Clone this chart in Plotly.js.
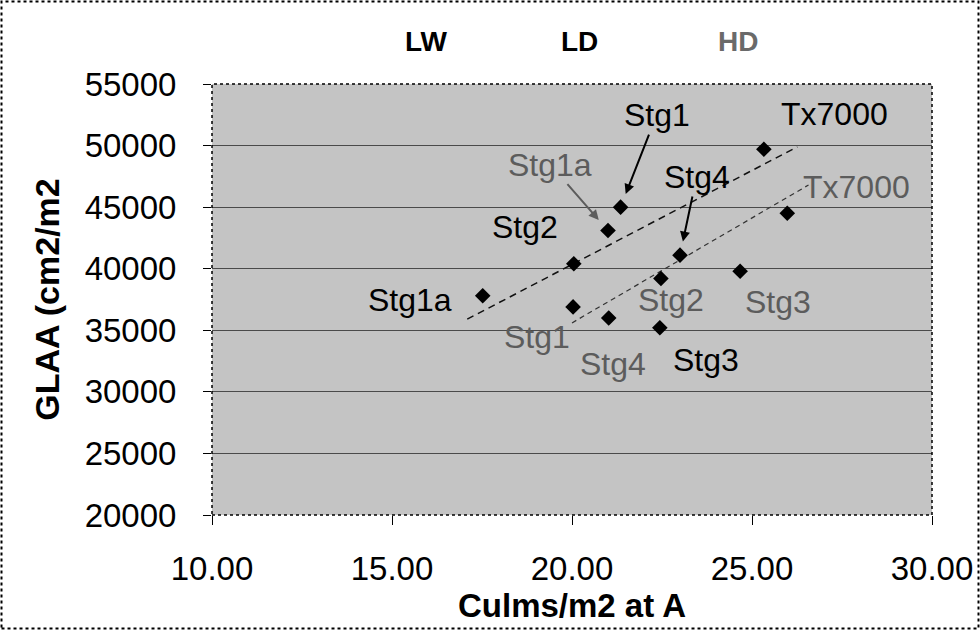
<!DOCTYPE html>
<html><head><meta charset="utf-8">
<script src="https://cdn.plot.ly/plotly-3.0.1.min.js"></script>
<style>html,body{margin:0;padding:0;background:#fff}#chart{width:980px;height:630px}</style>
</head><body><div id="chart"></div><script>
// LD series (black labels)
const ldLabels = ['Stg1a', 'Stg2', 'Stg1', 'Stg4', 'Stg3', 'Tx7000'];
const ldX = [17.52, 20.05, 21.35, 23.0, 22.44, 25.33];
const ldY = [37800, 40400, 45000, 41100, 35200, 49700];
// HD series (gray labels)
const hdLabels = ['Stg1a', 'Stg1', 'Stg4', 'Stg2', 'Stg3', 'Tx7000'];
const hdX = [21.0, 20.03, 21.02, 22.47, 24.67, 25.98];
const hdY = [43100, 36900, 36000, 39200, 39800, 44500];
// trend lines (endpoints)
const ldTrendX = [17.09, 26.26];
const ldTrendY = [35900, 49900];
const hdTrendX = [20.0, 26.57];
const hdTrendY = [35600, 46800];
// label anchor positions (data coords)
const ldLabelX = [15.51, 18.70, 22.35, 23.46, 23.71, 27.29];
const ldLabelY = [37460, 43390, 52480, 47450, 32590, 52570];
const hdLabelX = [19.40, 19.04, 21.13, 22.76, 25.71, 27.90];
const hdLabelY = [48460, 34450, 32260, 37460, 37300, 46640];
const ldArrow = [false, false, true, true, false, false];
const hdArrow = [true, false, false, false, false, false];
// header
const headText = ['LW', 'LD', 'HD'];
const headX = [15.97, 20.21, 24.61];
const headColor = ['#000', '#000', '#6a6a6a'];

const FONT = 'Liberation Sans, Arial, sans-serif';
const BLACK = '#000000', GRAY = '#5c5c5c';
const m = {l: 212, r: 48, t: 84, b: 115};
const pw = 980 - m.l - m.r, ph = 630 - m.t - m.b;

const traces = [
  {x: ldTrendX, y: ldTrendY, mode: 'lines', line: {color: '#111', width: 1.5, dash: '7px,5px'}, hoverinfo: 'skip'},
  {x: hdTrendX, y: hdTrendY, mode: 'lines', line: {color: '#333', width: 1.2, dash: '5px,4px'}, hoverinfo: 'skip'},
  {x: ldX, y: ldY, text: ldLabels, mode: 'markers', marker: {symbol: 'diamond', size: 12, color: BLACK}},
  {x: hdX, y: hdY, text: hdLabels, mode: 'markers', marker: {symbol: 'diamond', size: 12, color: BLACK}}
];

const ann = [];
function addLabels(labels, px, py, lx, ly, arrows, color) {
  labels.forEach((t, i) => {
    if (arrows[i]) {
      ann.push({x: px[i], y: py[i], xref: 'x', yref: 'y', axref: 'x', ayref: 'y', ax: lx[i], ay: ly[i],
        text: t, showarrow: true, arrowhead: 2, arrowsize: 1, arrowwidth: 2, arrowcolor: color, standoff: 14,
        font: {family: FONT, size: 32, color: color}});
    } else {
      ann.push({x: lx[i], y: ly[i], xref: 'x', yref: 'y', text: t, showarrow: false,
        xanchor: 'center', yanchor: 'middle', font: {family: FONT, size: 32, color: color}});
    }
  });
}
addLabels(ldLabels, ldX, ldY, ldLabelX, ldLabelY, ldArrow, BLACK);
addLabels(hdLabels, hdX, hdY, hdLabelX, hdLabelY, hdArrow, GRAY);
headText.forEach((t, i) => {
  ann.push({x: headX[i], y: (ph + m.t - 42) / ph, xref: 'x', yref: 'paper', text: '<b>' + t + '</b>', showarrow: false,
    xanchor: 'center', yanchor: 'middle', font: {family: FONT, size: 28, color: headColor[i]}});
});

const layout = {
  width: 980, height: 630,
  margin: m,
  paper_bgcolor: '#ffffff', plot_bgcolor: '#c4c4c4',
  showlegend: false,
  font: {family: FONT, color: '#000'},
  xaxis: {range: [10, 30], dtick: 5, tick0: 10, tickformat: '.2f', showgrid: false, zeroline: false,
    ticks: 'outside', ticklen: 9, tickcolor: '#000', showline: false, ticklabelstandoff: 15,
    tickfont: {family: FONT, size: 33, color: '#000'},
    title: {text: '<b>Culms/m2 at A</b>', font: {family: FONT, size: 33, color: '#000'}, standoff: 0}},
  yaxis: {range: [20000, 55000], dtick: 5000, tick0: 20000, tickformat: 'd', showgrid: true, gridcolor: '#4a4a4a', gridwidth: 1,
    zeroline: false, ticks: 'outside', ticklen: 8, tickcolor: '#000', showline: false, ticklabelstandoff: 20,
    tickfont: {family: FONT, size: 33, color: '#000'},
    title: {text: '<b>GLAA (cm2/m2</b>', font: {family: FONT, size: 34, color: '#000'}, standoff: 14}},
  annotations: ann,
  shapes: [
    {type: 'rect', xref: 'paper', yref: 'paper', x0: 0, x1: 1, y0: 0, y1: 1, line: {color: '#000', width: 1.5, dash: 'dot'}},
    {type: 'rect', xref: 'paper', yref: 'paper', x0: (-m.l + 1.5) / pw, x1: 1 + (m.r - 1.5) / pw,
      y0: (-m.b + 1.5) / ph, y1: 1 + (m.t - 1.5) / ph, line: {color: '#000', width: 2, dash: 'dot'}}
  ]
};
Plotly.newPlot('chart', traces, layout, {displayModeBar: false, staticPlot: true});
</script></body></html>
